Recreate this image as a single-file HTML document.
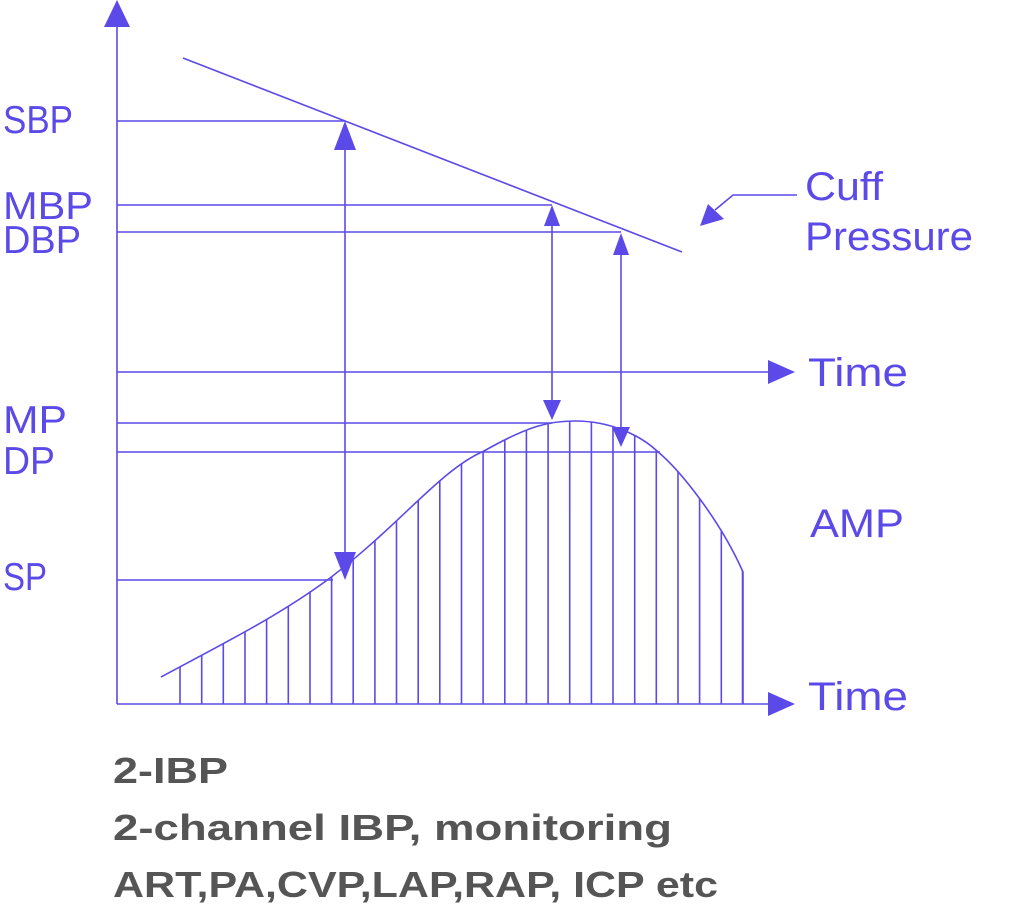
<!DOCTYPE html>
<html><head><style>body{margin:0;background:#fff}svg{display:block}</style></head>
<body>
<svg width="1024" height="922" viewBox="0 0 1024 922" xmlns="http://www.w3.org/2000/svg">
<defs>
<clipPath id="area"><path d="M161,677 C230,640 280,615 330,578 C400,525 440,470 484,451 C530,425 550,421 575,421 C610,421 640,435 657,451 C680,470 720,520 743,572 L743,704 L161,704 Z"/></clipPath>
</defs>
<g stroke="#5b4ae8" stroke-width="1.6" fill="none">
<line x1="117" y1="25" x2="117" y2="704"/>
<line x1="117" y1="704" x2="770" y2="704"/>
<line x1="117" y1="372" x2="770" y2="372"/>
<line x1="183" y1="58" x2="682" y2="252"/>
<line x1="117" y1="121" x2="345" y2="121"/>
<line x1="117" y1="205" x2="552" y2="205"/>
<line x1="117" y1="232" x2="621" y2="232"/>
<line x1="117" y1="423" x2="552" y2="423"/>
<line x1="117" y1="452" x2="660" y2="452"/>
<line x1="117" y1="580" x2="333" y2="580"/>
<line x1="345" y1="148" x2="345" y2="556"/>
<line x1="552" y1="224" x2="552" y2="402"/>
<line x1="621" y1="253" x2="621" y2="430"/>
<path d="M161,677 C230,640 280,615 330,578 C400,525 440,470 484,451 C530,425 550,421 575,421 C610,421 640,435 657,451 C680,470 720,520 743,572 L743,704"/>
<polyline points="797,195 733,195 715,210"/>
<g clip-path="url(#area)">
<path d="M180,400V704M201.7,400V704M223.3,400V704M245,400V704M266.6,400V704M288.3,400V704M310,400V704M331.6,400V704M353.2,400V704M374.9,400V704M396.5,400V704M418.2,400V704M439.8,400V704M461.5,400V704M483.1,400V704M504.8,400V704M526.4,400V704M548.1,400V704M569.7,400V704M591.4,400V704M613,400V704M634.7,400V704M656.3,400V704M678,400V704M699.6,400V704M721.3,400V704M742.5,400V704"/>
</g>
</g>
<g fill="#5b4ae8">
<polygon points="117,0 104,27 130,27"/>
<polygon points="795,372 768,360 768,384"/>
<polygon points="795,704 768,692 768,716"/>
<polygon points="345,121 334,150 356,150"/>
<polygon points="345,580 334,552 356,552"/>
<polygon points="552,205 544,226 560,226"/>
<polygon points="552,420 543,400 561,400"/>
<polygon points="621,233 613,255 629,255"/>
<polygon points="621,447 612,427 630,427"/>
<polygon points="700,226 708,204 724,219"/>
</g>
<g font-family="Liberation Sans, sans-serif" font-size="39" fill="#5b4ae8" lengthAdjust="spacingAndGlyphs">
<text x="3" y="133" textLength="70" lengthAdjust="spacingAndGlyphs">SBP</text>
<text x="3" y="219" textLength="90" lengthAdjust="spacingAndGlyphs">MBP</text>
<text x="3" y="253" textLength="78" lengthAdjust="spacingAndGlyphs">DBP</text>
<text x="3" y="433" textLength="64" lengthAdjust="spacingAndGlyphs">MP</text>
<text x="3" y="474" textLength="52" lengthAdjust="spacingAndGlyphs">DP</text>
<text x="3" y="590" textLength="44" lengthAdjust="spacingAndGlyphs">SP</text>
<text x="805" y="200" font-size="40" textLength="78" lengthAdjust="spacingAndGlyphs">Cuff</text>
<text x="805" y="250" font-size="40" textLength="168" lengthAdjust="spacingAndGlyphs">Pressure</text>
<text x="808" y="386" font-size="40" textLength="100" lengthAdjust="spacingAndGlyphs">Time</text>
<text x="808" y="710" font-size="40" textLength="100" lengthAdjust="spacingAndGlyphs">Time</text>
<text x="810" y="537" font-size="40" textLength="94" lengthAdjust="spacingAndGlyphs">AMP</text>
</g>
<g font-family="Liberation Sans, sans-serif" font-size="36" font-weight="bold" fill="#555">
<text x="113" y="783" textLength="115" lengthAdjust="spacingAndGlyphs">2-IBP</text>
<text x="113" y="840" textLength="559" lengthAdjust="spacingAndGlyphs">2-channel IBP, monitoring</text>
<text x="113" y="897" textLength="605" lengthAdjust="spacingAndGlyphs">ART,PA,CVP,LAP,RAP, ICP etc</text>
</g>
</svg>
</body></html>
